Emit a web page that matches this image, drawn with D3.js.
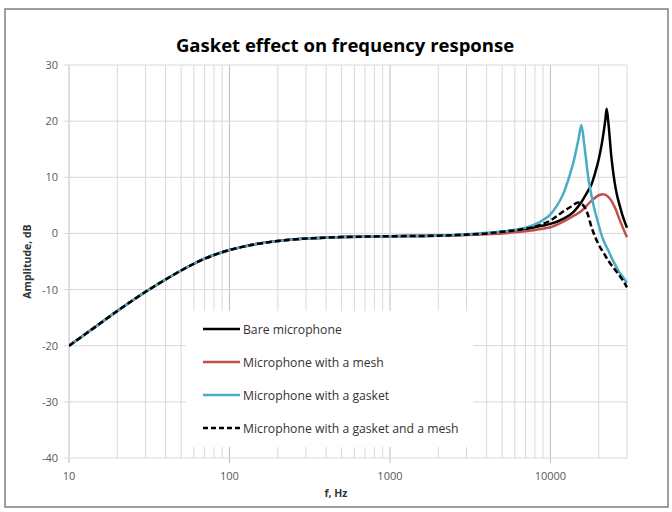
<!DOCTYPE html>
<html>
<head>
<meta charset="utf-8">
<script src="https://cdn.jsdelivr.net/npm/d3@7"></script>
<style>
  body { margin: 0; background: #fff; }
  svg { display: block; }
</style>
</head>
<body>
<div id="chart"></div>
<script>
// shared low-frequency part (all four curves overlap here)
const lowFreq = [10, 12, 15, 20, 25, 30, 40, 50, 60, 70, 80, 100, 120, 150, 200, 250, 300, 400, 500, 700, 1000, 1500, 2000];
const lowDb = [-20, -18.4, -16.4, -13.8, -11.9, -10.4, -8.2, -6.6, -5.4, -4.5, -3.85, -2.95, -2.4, -1.85, -1.35, -1.08, -0.92, -0.75, -0.65, -0.56, -0.5, -0.45, -0.4];

// high-frequency part of each curve [Hz, dB]
const bareHigh = [[3000, -0.25], [4000, 0], [5000, 0.3], [6000, 0.55], [7000, 0.8], [8000, 1.1], [9000, 1.4], [10000, 1.7], [12000, 2.6], [14000, 3.9], [15600, 5.6], [17000, 7.4], [18000, 8.7], [19000, 10.8], [20000, 13.2], [21000, 16.3], [22000, 20.3], [22400, 22.2], [23000, 19.5], [24000, 13.5], [25000, 9.5], [26000, 6.8], [27000, 5.0], [28000, 3.4], [29000, 2.1], [30000, 1.0]];
const meshHigh = [[3000, -0.3], [4000, -0.15], [5000, 0], [6000, 0.2], [7000, 0.4], [8000, 0.6], [9000, 0.85], [10000, 1.1], [12000, 2.1], [13500, 2.9], [15600, 4.0], [18000, 5.8], [20000, 6.8], [21400, 7.0], [22500, 6.7], [24000, 5.8], [25500, 4.3], [26600, 2.9], [28000, 1.3], [30000, -0.7]];
const gasketHigh = [[3000, -0.15], [4000, 0.1], [5000, 0.35], [6000, 0.65], [7000, 1.0], [8000, 1.6], [9000, 2.4], [10000, 3.4], [11000, 5.0], [12000, 7.0], [13000, 9.8], [14000, 13], [15000, 17], [15600, 19.3], [16300, 15.5], [17200, 10], [18500, 5.2], [19900, 1.7], [21000, -0.6], [23000, -3.1], [25000, -5.3], [26600, -6.7], [28500, -7.9], [30000, -8.8]];
const bothHigh = [[3000, -0.2], [4000, 0], [5000, 0.3], [6000, 0.55], [7000, 0.85], [8000, 1.2], [9000, 1.7], [10000, 2.3], [11000, 3.1], [12000, 3.9], [13500, 4.8], [14900, 5.5], [16400, 4.6], [17000, 3.6], [18000, 1.2], [19900, -1.9], [21500, -3.5], [23000, -4.9], [25000, -6.3], [26600, -7.3], [28500, -8.5], [30000, -9.6]];

const seriesNames = ["Bare microphone", "Microphone with a mesh", "Microphone with a gasket", "Microphone with a gasket and a mesh"];
const seriesHigh = [bareHigh, meshHigh, gasketHigh, bothHigh];
const seriesColors = ["#000000", "#c0504d", "#4bacc6", "#000000"];
const seriesDash = [null, null, null, "6,3"];

const xTickLabels = [10, 100, 1000, 10000];
const yTickValues = [-40, -30, -20, -10, 0, 10, 20, 30];

const W = 672, H = 512;
const font = "'Open Sans', 'DejaVu Sans', sans-serif";

const svg = d3.select("#chart").append("svg")
    .attr("width", W)
    .attr("height", H);

// outer frame
svg.append("rect")
    .attr("x", 5).attr("y", 9)
    .attr("width", 663).attr("height", 498)
    .attr("fill", "#fff")
    .attr("stroke", "#7f7f7f")
    .attr("stroke-width", 1.5);

const x = d3.scaleLog().domain([10, 30000]).range([69, 627]);
const y = d3.scaleLinear().domain([-40, 30]).range([458, 65]);

// vertical gridlines (major + minor)
const xGrid = x.ticks();
svg.append("g").selectAll("line")
    .data(xGrid)
    .enter().append("line")
    .attr("x1", d => x(d)).attr("x2", d => x(d))
    .attr("y1", y(30)).attr("y2", y(-40))
    .attr("stroke", d => xTickLabels.includes(d) ? "#bfbfbf" : "#d9d9d9")
    .attr("stroke-width", 1);

// horizontal gridlines
svg.append("g").selectAll("line")
    .data(yTickValues)
    .enter().append("line")
    .attr("x1", x(10) - 5).attr("x2", x(30000))
    .attr("y1", d => y(d)).attr("y2", d => y(d))
    .attr("stroke", "#d9d9d9");

// x ticks below axis
svg.append("g").selectAll("line")
    .data(xTickLabels)
    .enter().append("line")
    .attr("x1", d => x(d)).attr("x2", d => x(d))
    .attr("y1", y(-40)).attr("y2", y(-40) + 5)
    .attr("stroke", "#bfbfbf");

// tick labels
svg.append("g").selectAll("text")
    .data(yTickValues)
    .enter().append("text")
    .attr("x", 58)
    .attr("y", d => y(d) + 4)
    .attr("text-anchor", "end")
    .attr("font-family", font)
    .attr("font-size", 11)
    .attr("fill", "#595959")
    .text(d => d);

svg.append("g").selectAll("text")
    .data(xTickLabels)
    .enter().append("text")
    .attr("x", d => x(d))
    .attr("y", y(-40) + 22)
    .attr("text-anchor", "middle")
    .attr("font-family", font)
    .attr("font-size", 11)
    .attr("fill", "#595959")
    .text(d => d);

// axis titles
svg.append("text")
    .attr("transform", "translate(31," + ((y(30) + y(-40)) / 2) + ")rotate(-90)")
    .attr("text-anchor", "middle")
    .attr("font-family", font)
    .attr("font-size", 10.5)
    .attr("font-weight", "bold")
    .attr("fill", "#333")
    .text("Amplitude, dB");

svg.append("text")
    .attr("x", 336)
    .attr("y", 497)
    .attr("text-anchor", "middle")
    .attr("font-family", font)
    .attr("font-size", 10.5)
    .attr("font-weight", "bold")
    .attr("fill", "#333")
    .text("f, Hz");

// title
svg.append("text")
    .attr("x", 345)
    .attr("y", 52)
    .attr("text-anchor", "middle")
    .attr("font-family", font)
    .attr("font-size", 18.5)
    .attr("font-weight", "bold")
    .attr("fill", "#000")
    .text("Gasket effect on frequency response");

// legend background, sits over the gridlines
const legX = 186, legY = 311, legW = 287, legH = 136;
svg.append("rect")
    .attr("x", legX).attr("y", legY)
    .attr("width", legW).attr("height", legH)
    .attr("fill", "#fff");

// curves
const line = d3.line()
    .x(d => x(d[0]))
    .y(d => y(d[1]))
    .curve(d3.curveMonotoneX);

const lowPart = lowFreq.map((f, i) => [f, lowDb[i]]);

svg.append("clipPath").attr("id", "plotClip")
    .append("rect")
    .attr("x", x(10)).attr("y", y(30))
    .attr("width", x(30000) - x(10) + 2).attr("height", y(-40) - y(30));

svg.append("g").attr("clip-path", "url(#plotClip)")
    .selectAll("path")
    .data(seriesHigh)
    .enter().append("path")
    .attr("d", d => line(lowPart.concat(d)))
    .attr("fill", "none")
    .attr("stroke", (d, i) => seriesColors[i])
    .attr("stroke-width", 2.5)
    .attr("stroke-dasharray", (d, i) => seriesDash[i])
    .attr("stroke-linejoin", "round");

// legend entries
const leg = svg.append("g").selectAll("g")
    .data(seriesNames)
    .enter().append("g")
    .attr("transform", (d, i) => "translate(0," + (329 + i * 33) + ")");

leg.append("line")
    .attr("x1", 203).attr("x2", 240)
    .attr("y1", 0).attr("y2", 0)
    .attr("stroke", (d, i) => seriesColors[i])
    .attr("stroke-width", 2.5)
    .attr("stroke-dasharray", (d, i) => seriesDash[i] ? "5,3" : null);

leg.append("text")
    .attr("x", 243)
    .attr("y", 4.5)
    .attr("font-family", font)
    .attr("font-size", 12.2)
    .attr("fill", "#333")
    .text(d => d);
</script>
</body>
</html>
